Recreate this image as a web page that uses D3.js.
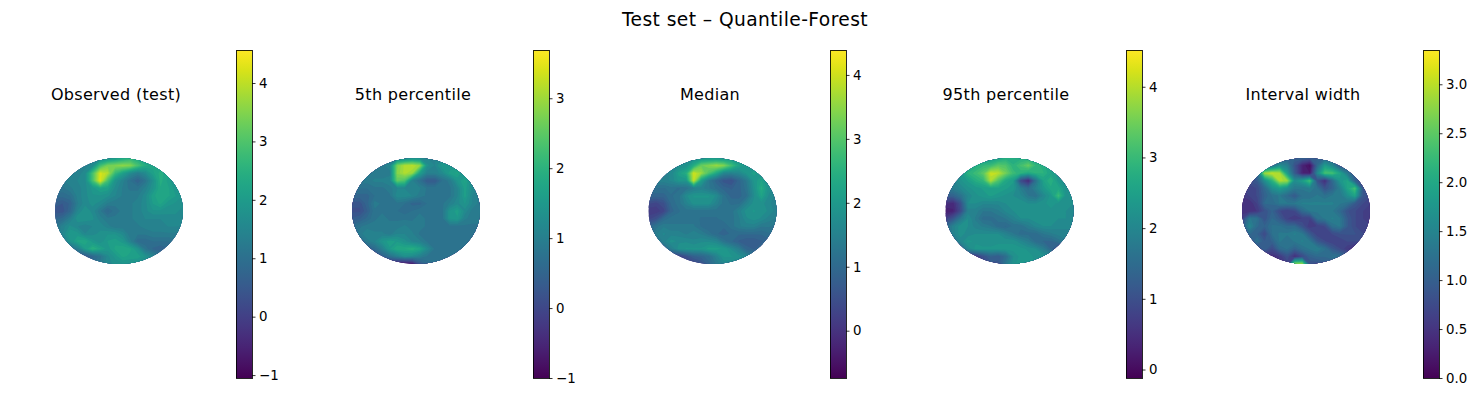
<!DOCTYPE html>
<html><head><meta charset="utf-8">
<script src="https://cdn.jsdelivr.net/npm/d3@7"></script>
<style>html,body{margin:0;background:#fff}svg{display:block}text{font-family:"DejaVu Sans",sans-serif;fill:#000}</style>
</head><body><svg id="c" width="1481" height="396"></svg>
<script>
const figureTitle = "Test set \u2013 Quantile-Forest";
const panelTitles = ["Observed (test)","5th percentile","Median","95th percentile","Interval width"];
const colorDomains = [[-1.05,4.565],[-1.0,3.69],[-0.74,4.39],[-0.12,4.52],[0,3.35]];
const tickValues = [[-1,0,1,2,3,4],[-1,0,1,2,3],[0,1,2,3,4],[0,1,2,3,4],[0,0.5,1,1.5,2,2.5,3]];
const tickFormats = ["d","d","d","d",".1f"];
const observed = [
[1.4,1.4,1.4,1.4,1.4,1.4,1.6,1.8,2.0,2.3,2.6,2.4,2.0,1.8,1.8,1.8,1.8,1.8],
[1.4,1.4,1.4,1.4,1.5,1.7,2.9,3.5,3.6,3.7,3.6,3.0,2.5,2.3,2.3,2.3,2.3,2.3],
[1.5,1.5,1.5,1.5,1.7,3.0,4.3,4.0,2.8,2.2,1.7,1.4,1.7,2.2,2.5,2.3,2.2,2.2],
[1.4,1.4,1.5,1.6,1.7,3.0,4.4,3.0,1.9,1.5,1.1,.8,1.2,1.8,2.5,2.2,1.9,1.9],
[1.3,1.2,1.4,1.5,1.7,2.0,2.3,2.2,1.7,1.4,1.2,1.2,1.5,1.9,2.4,2.3,2.0,1.8],
[1.0,1.0,1.1,1.5,1.7,1.9,1.9,1.8,1.6,1.4,1.4,1.4,1.7,2.2,2.4,2.3,2.1,1.9],
[.7,.6,.8,1.4,1.7,1.8,1.7,1.4,1.3,1.4,1.4,1.5,1.7,2.1,2.3,2.0,1.9,1.8],
[.5,.5,.9,1.6,1.9,1.7,1.3,.9,1.2,1.3,1.4,1.5,1.7,1.9,1.9,1.8,1.8,1.7],
[.8,1.0,1.4,1.9,1.9,1.8,1.5,1.3,1.3,1.3,1.4,1.5,1.6,1.6,1.6,1.7,1.7,1.7],
[1.2,1.5,1.8,1.6,1.5,1.6,1.7,1.5,1.3,1.3,1.4,1.4,1.5,1.5,1.5,1.6,1.6,1.6],
[1.2,1.6,2.1,2.0,1.6,1.7,1.8,1.9,1.9,1.7,1.3,1.3,1.3,1.4,1.4,1.4,1.4,1.3],
[1.0,1.3,1.9,2.3,2.4,2.0,1.8,2.1,2.2,2.0,1.5,1.0,1.0,1.1,1.1,1.1,1.2,1.2],
[.8,.8,1.0,1.4,2.1,2.6,2.3,2.0,2.3,2.4,2.3,1.9,1.2,.9,.8,.9,1.0,1.0],
[.4,.4,.4,.4,.5,.9,1.2,1.7,2.0,2.3,2.2,2.2,1.9,1.6,1.2,.9,.9,.9],
[.8,.8,.8,.8,.8,1.0,1.3,1.7,1.8,1.9,1.9,1.8,1.6,1.3,1.0,.9,.9,.9]];
const p5 = [
[1.0,1.0,1.0,1.0,1.0,1.0,1.1,1.2,1.3,1.3,1.2,1.2,1.3,1.3,1.3,1.3,1.3,1.3],
[1.0,1.0,1.0,1.0,1.0,1.2,2.8,3.2,3.3,3.0,1.4,1.2,1.6,1.5,1.5,1.5,1.5,1.5],
[1.0,1.0,1.0,1.0,1.0,1.0,2.9,3.2,3.0,1.7,1.1,1.1,1.3,1.7,1.8,1.4,1.3,1.3],
[1.0,1.0,1.0,1.1,1.1,1.2,2.6,2.4,1.1,.8,.4,.4,.8,1.0,1.5,1.8,1.3,1.2],
[.8,.8,.8,.9,.9,1.0,1.2,1.2,1.2,1.1,.9,.9,.9,.9,1.2,1.7,1.3,1.1],
[.6,.6,.6,.8,.8,.9,1.3,1.3,1.2,1.0,.9,.9,.9,.9,1.2,1.7,1.2,1.0],
[.3,.3,.6,1.0,.9,.9,.9,.8,.6,.6,.8,.9,.9,1.1,1.3,1.5,1.2,1.0],
[.2,.2,.5,.9,.9,.8,.8,.7,.8,.9,.9,.9,.9,1.5,1.7,1.3,1.0,1.0],
[.4,.5,.7,.9,1.0,.9,.9,.9,.9,1.0,.9,.8,.9,1.5,1.6,1.1,1.0,1.0],
[.7,.9,1.0,1.0,1.0,1.0,1.0,1.1,1.0,1.0,.9,.9,.9,.9,.9,.9,.9,.9],
[.7,1.0,1.2,1.1,1.1,1.0,1.2,1.2,1.1,.9,.8,.8,.8,.8,.8,.8,.8,.8],
[.5,.7,1.0,1.2,1.5,1.7,1.6,1.4,1.2,1.1,.9,.8,.8,.8,.8,.8,.8,.8],
[.2,.2,.4,.7,1.1,1.6,1.9,1.9,2.0,1.8,1.3,.9,.9,.9,.8,.8,.8,.8],
[-.2,-.2,-.2,.1,.5,.8,1.1,1.4,1.3,1.1,.9,.8,.8,.8,.8,.8,.7,.7],
[-.3,-.3,-.3,-.3,-.3,-.3,-.6,-.7,-.6,.3,.7,.8,.8,.8,.8,.8,.7,.7]];
const median = [
[1.7,1.7,1.7,1.7,1.7,1.7,1.8,1.9,2.0,2.0,2.0,2.0,2.0,2.0,2.0,2.0,2.0,2.0],
[1.7,1.7,1.7,1.7,1.8,1.9,2.5,3.3,3.5,3.7,3.5,2.9,2.3,2.0,2.0,2.0,2.0,2.0],
[1.6,1.6,1.6,1.7,2.2,2.5,4.1,3.7,3.0,2.4,1.7,1.6,1.7,2.0,2.2,2.0,1.9,1.9],
[1.6,1.6,1.6,1.7,2.0,2.0,4.0,2.2,1.4,1.0,.7,.6,1.0,1.4,2.0,2.3,1.8,1.7],
[1.2,1.2,1.2,1.3,1.2,1.3,1.5,1.6,1.4,1.2,1.0,.9,1.0,1.3,1.9,2.5,1.9,1.7],
[1.0,1.0,1.0,1.2,1.3,1.8,2.0,2.0,2.0,1.8,1.3,1.0,1.0,1.2,1.8,2.3,1.8,1.6],
[.5,.4,.6,1.1,1.3,1.6,1.9,1.9,1.9,1.6,1.3,1.2,1.2,1.6,1.9,1.9,1.7,1.6],
[.2,.2,.4,1.0,1.2,1.3,1.3,1.3,1.3,1.3,1.3,1.3,1.6,1.9,2.0,1.9,1.8,1.6],
[.4,.6,1.1,1.3,1.3,1.3,1.3,1.2,1.2,1.2,1.3,1.3,1.5,1.8,1.9,1.8,1.6,1.5],
[1.0,1.3,1.5,1.4,1.4,1.4,1.4,1.2,1.1,1.1,1.1,1.3,1.5,1.6,1.6,1.4,1.4,1.3],
[1.0,1.5,1.7,1.6,1.6,1.5,1.6,1.5,1.3,1.1,1.0,1.1,1.1,1.1,1.1,1.1,1.2,1.2],
[.8,1.2,1.6,1.9,1.8,1.8,1.7,1.8,1.8,1.7,1.3,1.1,.9,.8,.8,.9,1.0,1.1],
[.6,.7,1.0,1.5,1.9,2.0,2.0,2.0,2.2,2.2,2.1,1.8,1.5,1.0,.9,1.0,1.0,1.0],
[.3,.3,.3,.3,.3,.6,.9,1.0,1.2,1.6,2.0,2.0,1.9,1.7,1.4,1.1,1.0,1.0],
[.3,.3,.3,.3,.3,.3,.4,.6,1.0,1.4,1.7,1.7,1.6,1.4,1.2,1.0,1.0,1.0]];
const p95 = [
[2.2,2.2,2.2,2.2,2.2,2.3,2.4,2.6,2.8,2.8,2.8,2.8,2.6,2.4,2.4,2.4,2.4,2.4],
[2.3,2.3,2.3,2.4,2.8,3.0,3.1,3.4,3.3,2.9,3.2,3.5,3.0,2.8,2.6,2.6,2.6,2.6],
[2.3,2.3,2.4,2.9,3.1,3.4,4.2,4.1,3.6,3.1,2.9,2.7,2.9,2.9,2.6,2.4,2.3,2.3],
[2.0,2.0,2.3,2.5,2.8,3.0,4.0,3.3,2.7,2.5,1.0,.5,1.7,2.6,2.9,2.4,2.2,2.2],
[1.8,1.9,2.1,2.3,2.4,2.5,2.6,2.6,2.5,2.4,1.9,1.6,2.0,2.4,2.7,2.7,2.3,2.2],
[1.3,1.4,1.7,2.1,2.3,2.4,2.5,2.4,2.3,2.2,2.1,1.8,1.7,2.1,2.4,3.1,2.3,2.2],
[.6,.5,1.1,2.2,2.2,2.1,2.1,2.1,2.2,2.2,2.3,2.2,2.2,2.3,2.4,2.3,2.2,2.2],
[.3,.4,1.0,2.0,2.0,1.8,1.8,1.9,2.1,2.2,2.3,2.3,2.3,2.3,2.3,2.2,2.2,2.1],
[.8,1.2,1.8,2.2,1.9,1.6,1.6,1.7,1.8,2.0,2.2,2.2,2.3,2.3,2.2,2.2,2.2,2.1],
[1.5,2.0,2.3,2.2,2.0,1.9,1.8,1.6,1.5,1.7,1.7,1.9,2.1,2.2,2.2,2.1,2.1,2.1],
[1.5,2.0,2.3,2.1,2.2,2.2,2.2,2.2,2.0,1.8,1.6,1.6,1.6,1.8,1.9,2.0,2.0,2.0],
[1.1,1.6,2.1,2.4,2.3,2.2,2.2,2.3,2.3,2.3,2.1,1.9,1.6,1.5,1.5,1.7,1.9,1.9],
[.9,1.0,1.5,2.1,2.4,2.4,2.4,2.4,2.4,2.4,2.4,2.3,2.2,1.9,1.5,.9,1.2,1.5],
[.6,.6,.7,.7,.7,1.1,1.4,1.3,1.6,2.2,2.4,2.4,2.3,2.3,2.2,2.1,1.5,1.2],
[.6,.6,.7,.7,.7,1.0,1.2,1.2,1.8,2.3,2.4,2.4,2.3,2.2,2.0,1.8,1.5,1.2]];
const intervalWidth = [
[.9,.9,.9,.9,.9,1.0,1.1,1.1,1.1,1.0,1.1,1.2,1.2,1.1,1.0,1.0,1.0,1.0],
[1.0,1.0,1.0,1.1,1.3,1.7,1.5,.9,.4,.15,1.2,1.9,1.6,1.0,1.0,1.0,1.0,1.0],
[1.0,1.0,1.2,2.9,3.1,3.0,1.9,1.0,.4,.3,1.6,2.4,2.4,2.0,1.4,1.0,.9,.9],
[.9,.9,1.0,1.7,2.2,3.0,2.9,1.7,1.9,2.4,.9,.5,1.2,1.8,2.0,1.1,.8,.8],
[.7,.7,.8,1.2,1.7,1.9,1.7,1.4,1.4,1.5,1.3,.9,1.1,1.5,2.0,2.4,1.0,.8],
[.6,.7,.8,1.1,1.3,1.4,1.2,1.0,1.3,1.3,1.4,1.3,1.4,1.4,1.7,2.0,1.0,.8],
[.5,.5,.7,1.2,1.2,1.4,1.4,1.4,1.5,1.5,1.5,1.5,1.5,1.4,1.3,1.0,.8,.7],
[.5,.5,.6,.9,1.1,.8,.7,.8,1.2,1.4,1.4,1.4,1.4,1.2,.9,.8,.7,.6],
[.7,1.4,1.3,.9,1.2,1.0,.7,.6,.7,.7,1.3,1.4,1.5,1.4,1.0,.8,.7,.6],
[1.0,1.6,1.2,1.1,1.3,1.3,1.2,1.2,.9,.6,.7,.8,1.3,1.4,1.0,.8,.7,.7],
[.9,1.2,1.1,.8,1.3,1.4,1.4,1.5,1.4,1.0,.7,.7,.8,.9,.9,.9,.8,.8],
[.8,1.0,1.3,1.0,1.1,1.4,1.3,1.4,1.5,1.4,1.0,.8,.7,.7,.8,.8,.8,.8],
[.6,.7,.8,1.1,.8,1.2,1.3,1.1,1.3,1.4,1.5,1.3,1.0,.8,.6,.5,.7,.7],
[.4,.4,.4,.5,.5,.6,.9,.5,.8,1.1,1.2,1.2,1.3,1.3,1.1,.9,.8,.7],
[.4,.4,.4,.5,.5,.6,.7,2.9,2.9,.9,.9,1.0,1.0,1.0,.9,.8,.8,.7]];
const panelGrids = [observed,p5,median,p95,intervalWidth];

const discCentersX = [119,416,712.5,1009.5,1306];
const titleCentersX = [116,413,710,1006,1303];
const barLeftX = [236,533,830,1126,1423];
const discRx = 64, discRy = 53, discCy = 211, barW = 16, barTop = 50, barBottom = 378;

const svg = d3.select("#c");
svg.append("text").attr("x",745).attr("y",26).attr("text-anchor","middle").style("font-size","18.67px").style("letter-spacing","0.42px").text(figureTitle);
const defs = svg.append("defs");

panelGrids.forEach((grid,p)=>{
  const dom = colorDomains[p];
  const color = d3.scaleSequential(d3.interpolateViridis).domain(dom);
  const g = svg.append("g");
  const cx = discCentersX[p];
  g.append("text").attr("x",titleCentersX[p]).attr("y",100).attr("text-anchor","middle").style("font-size","16px").style("letter-spacing","0.33px").text(panelTitles[p]);

  // padded copy so the contours reach past the disc edge
  const rows = [grid[0],...grid,grid[grid.length-1]].map(r=>[r[0],...r,r[r.length-1]]);
  const n = rows[0].length, m = rows.length;
  const xs = d3.scaleLinear().domain([1.5,n-1.5]).range([cx-discRx,cx+discRx]);
  const ys = d3.scaleLinear().domain([1.5,m-1.5]).range([discCy-discRy,discCy+discRy]);
  const step = (dom[1]-dom[0])/34;
  const minV = d3.min(rows.flat());
  const thresholds = [minV-1,...d3.range(dom[0],dom[1],step).filter(t=>t>minV)];
  const contours = d3.contours().size([n,m]).smooth(true).thresholds(thresholds)(rows.flat());
  const path = d3.geoPath(d3.geoTransform({point(x,y){this.stream.point(xs(x),ys(y));}}));
  const id = "clip"+p;
  defs.append("clipPath").attr("id",id).append("ellipse").attr("cx",cx).attr("cy",discCy).attr("rx",discRx).attr("ry",discRy);
  g.append("g").attr("clip-path",`url(#${id})`).selectAll("path").data(contours).join("path")
    .attr("d",path).attr("fill",d=>color(Math.max(d.value,minV)));

  // colorbar
  const y = d3.scaleLinear().domain(dom).range([barBottom,barTop]);
  const left = barLeftX[p];
  const gradId = "bar"+p;
  const stops = d3.range(0,1.0001,1/32);
  defs.append("linearGradient").attr("id",gradId).attr("x1",0).attr("x2",0).attr("y1",1).attr("y2",0)
    .selectAll("stop").data(stops).join("stop")
    .attr("offset",d=>d).attr("stop-color",d=>d3.interpolateViridis(d));
  g.append("rect").attr("x",left).attr("width",barW).attr("y",y(dom[1])).attr("height",y(dom[0])-y(dom[1]))
    .attr("fill",`url(#${gradId})`);
  g.append("rect").attr("x",left+0.5).attr("y",barTop+0.5).attr("width",barW).attr("height",barBottom-barTop)
    .attr("fill","none").attr("stroke","#000").attr("stroke-width",1).attr("stroke-opacity",0.85);
  const fmt = d3.format(tickFormats[p]);
  const axis = d3.axisRight(y).tickValues(tickValues[p]).tickSize(3.5).tickPadding(3.5)
    .tickFormat(v=>fmt(v).replace("-","\u2212"));
  const ag = g.append("g").attr("transform",`translate(${left+barW},0)`).call(axis);
  ag.select(".domain").remove();
  ag.selectAll("line").attr("stroke","#000").attr("stroke-width",0.8);
  ag.selectAll("text").attr("fill","#000").style("font-size","13.33px").style("font-family",'"DejaVu Sans",sans-serif');
});
</script></body></html>
